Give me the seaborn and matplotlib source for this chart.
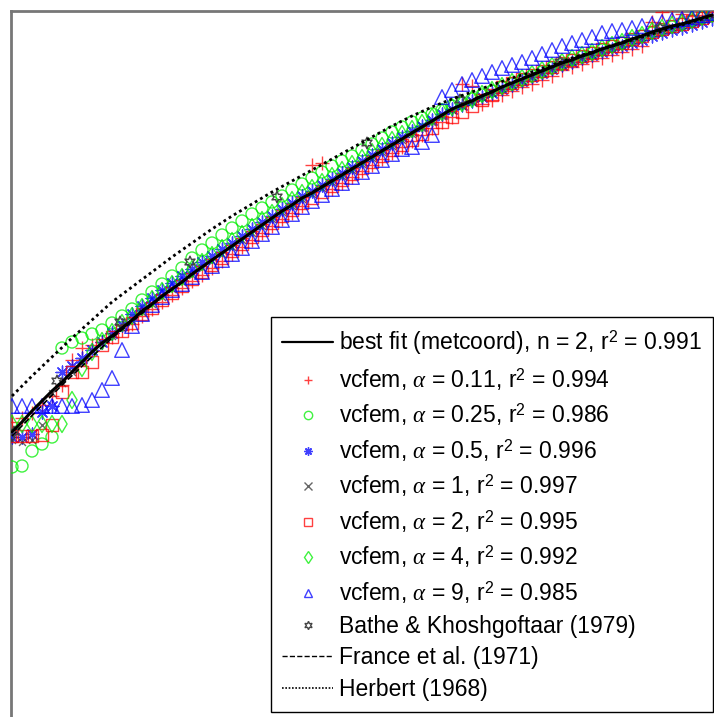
import numpy as np
import pandas as pd
import seaborn as sns
import matplotlib
matplotlib.use("Agg")
import matplotlib.pyplot as plt
from matplotlib.lines import Line2D

sns.set_theme(style="white")
plt.rcParams["font.family"] = ["Liberation Sans", "DejaVu Sans"]
plt.rcParams["mathtext.fontset"] = "custom"
plt.rcParams["mathtext.rm"] = "Liberation Sans"
plt.rcParams["mathtext.it"] = "Liberation Serif:italic"
plt.rcParams["text.color"] = "black"

# ---------------- data (screen-like units, y grows downward) -------------
x_grid = list(range(12, 713, 10))

best_fit = [432, 422, 411, 401, 391, 382, 372, 362, 352, 343, 336, 328, 320, 311, 304, 296, 289, 282,
            274, 267, 260, 253, 246, 239, 232, 225, 218, 211, 205, 198, 193, 187, 181, 175, 169, 163,
            157, 151, 145, 139, 133, 127, 121, 115, 109, 105, 101, 96, 92, 87, 83, 79, 75, 71, 67, 63,
            60, 56, 53, 49, 46, 43, 39, 36, 32, 29, 26, 24, 21, 18, 15]

france_x = [12, 62, 112, 162, 212, 262, 312, 362, 412, 462, 512, 562, 612, 662, 712]
france_y = [436, 385, 338, 297, 260, 225, 192, 162, 132, 104, 82, 62, 45, 29, 15]

herbert_x = [12, 32, 52, 72, 92, 112, 132, 152, 172, 192, 212, 232, 252, 272, 292, 312, 332, 352,
             372, 392, 412, 432, 452, 472, 492, 512, 532, 552, 572, 592, 612, 632, 652, 672, 692, 712]
herbert_y = [396, 376, 357, 338, 320, 302, 287, 272, 257, 243, 229, 216, 204, 192, 181, 170, 159, 148,
             137, 126, 116, 107, 99, 92, 85, 78, 72, 65, 58, 52, 46, 40, 34, 28, 22, 16]

a011 = [422, 418, 413, 405, 396, 385, 360, 348, 345, 342, 337, 330, 324, 316, 309, 302, 295, 288,
        281, 275, 268, 261, 254, 247, 240, 233, 226, 219, 213, 206, 165, 163, 189, 183, 177, 171,
        165, 159, 153, 147, 141, 135, 128, 122, 117, 84, 86, 104, 100, 95, 91, 87, 84, 80, 76, 70,
        67, 64, 61, 58, 55, 52, 49, 46, 22, 12, 10, 14, 16, 15, 12]
a025 = [467, 466, 451, 444, 437, 348, 342, 338, 334, 330, 323, 316, 309, 300, 292, 284, 276, 268,
        258, 250, 243, 235, 228, 221, 214, 208, 202, 196, 190, 184, 178, 172, 166, 161, 156, 150,
        144, 138, 132, 127, 122, 118, 114, 110, 106, 103, 99, 95, 91, 87, 84, 80, 76, 72, 68, 64,
        60, 57, 53, 50, 46, 43, 40, 36, 33, 30, 27, 24, 21, 18, 15]
a05 = [437, 437, 434, 412, 406, 372, 366, 358, 350, 342, 333, 325, 314, 306, 298, 290, 283, 276,
       269, 262, 256, 249, 243, 236, 229, 222, 216, 209, 203, 196, 191, 185, 179, 173, 167, 161,
       155, 149, 143, 137, 131, 126, 120, 114, 109, 105, 101, 97, 93, 89, 85, 81, 77, 73, 69, 65,
       62, 58, 55, 52, 49, 46, 43, 40, 36, 33, 30, 28, 25, 22, 19]
a1 = [440, 442, 440, 425, 393, 383, 372, 362, 351, 343, 336, 328, 320, 312, 304, 297, 289, 282,
      275, 268, 261, 254, 247, 240, 233, 226, 219, 212, 206, 199, 194, 188, 182, 176, 170, 164,
      158, 152, 146, 140, 134, 128, 122, 116, 110, 106, 102, 97, 93, 88, 84, 80, 76, 72, 68, 64,
      61, 57, 54, 50, 47, 44, 40, 37, 33, 30, 27, 25, 22, 19, 16]
a2 = [436, 436, 436, 435, 425, 392, 372, 372, 362, 345, 337, 331, 323, 314, 308, 300, 293, 286,
      279, 272, 265, 258, 251, 244, 237, 230, 223, 216, 210, 203, 198, 192, 186, 180, 174, 168,
      162, 156, 150, 145, 140, 134, 128, 122, 117, 112, 106, 100, 95, 87, 83, 79, 75, 71, 67, 63,
      60, 56, 53, 49, 46, 43, 39, 36, 32, 29, 26, 24, 21, 18, 15]
a4 = [424, 424, 424, 424, 424, 424, 400, 368, 352, 341, 332, 323, 316, 307, 299, 291, 284, 277,
      269, 262, 255, 248, 241, 234, 227, 220, 213, 206, 200, 193, 188, 182, 176, 170, 164, 158,
      152, 146, 140, 134, 129, 123, 117, 112, 107, 103, 99, 94, 90, 86, 82, 78, 74, 70, 66, 62,
      58, 55, 52, 48, 45, 42, 38, 35, 31, 28, 25, 23, 20, 17, 14]
a9 = [406, 406, 406, 406, 406, 406, 406, 405, 400, 390, 378, 350, 326, 314, 305, 297, 290, 284,
      277, 272, 266, 260, 254, 248, 241, 234, 227, 220, 214, 207, 201, 195, 189, 183, 177, 172,
      166, 160, 154, 149, 147, 142, 135, 97, 90, 84, 80, 76, 72, 68, 65, 62, 58, 54, 50, 46,
      43, 40, 37, 33, 31, 30, 28, 26, 24, 22, 20, 19, 17, 15, 13]

bathe_x = [14, 57, 120, 190, 277, 367, 460, 560, 660]
bathe_y = [432, 381, 322, 262, 197, 143, 100, 62, 28]

series_labels = ["0.11", "0.25", "0.5", "1", "2", "4", "9"]
series_r2 = ["0.994", "0.986", "0.996", "0.997", "0.995", "0.992", "0.985"]
series_values = [a011, a025, a05, a1, a2, a4, a9]
series_colors = ["#ff0000", "#00ee00", "#0000ff", "#333333", "#ff0000", "#00ee00", "#0000ff"]
series_markers = ["+", "o", (8, 2, 0), "x", "s", "d", "^"]
series_open = [False, True, False, False, True, True, True]
series_sizes = [100, 75, 85, 25, 85, 75, 110]

# ---------------- figure ----------------
W, H = 714, 717
fig = plt.figure(figsize=(W / 100, H / 100), dpi=100)
left, top, right, bottom = 11.5, 10.5, 760, 760
ax = fig.add_axes([left / W, (H - bottom) / H, (right - left) / W, (bottom - top) / H])
ax.set_xlim(left, right)
ax.set_ylim(bottom, top)

for vals, c, m, op, s in zip(series_values, series_colors, series_markers, series_open, series_sizes):
    if op:
        sns.scatterplot(x=x_grid, y=vals, marker=m, s=s, facecolor="none", edgecolor=c,
                        linewidth=1.0, alpha=0.75, ax=ax, legend=False, zorder=3)
    else:
        sns.scatterplot(x=x_grid, y=vals, marker=m, s=s, color=c,
                        linewidth=1.0, alpha=0.75, ax=ax, legend=False, zorder=3)

sns.scatterplot(x=bathe_x, y=bathe_y, marker=(6, 1, 0), s=70, facecolor="none", edgecolor="#444444",
                linewidth=1.0, ax=ax, legend=False, zorder=4)

sns.lineplot(x=herbert_x, y=herbert_y, color="black", linestyle=(0, (1, 1.2)), linewidth=2.0,
             ax=ax, sort=False, estimator=None, zorder=5)
sns.lineplot(x=france_x, y=france_y, color="black", linestyle="--", linewidth=1.2,
             ax=ax, sort=False, estimator=None, zorder=5)
sns.lineplot(x=x_grid, y=best_fit, color="black", linewidth=2.2,
             ax=ax, sort=False, estimator=None, zorder=6)

ax.set_xticks([])
ax.set_yticks([])
ax.set_xlabel("")
ax.set_ylabel("")
for side in ["left", "top"]:
    ax.spines[side].set_color("#777777")
    ax.spines[side].set_linewidth(2)
for side in ["right", "bottom"]:
    ax.spines[side].set_visible(False)

# ---------------- legend ----------------
handles = [Line2D([], [], color="black", lw=1.6)]
labels = ["best fit (metcoord), n = 2, r$^{2}$ = 0.991"]
for lab, r2, c, m, op in zip(series_labels, series_r2, series_colors, series_markers, series_open):
    handles.append(Line2D([], [], linestyle="none", marker=m, markersize=6,
                          markerfacecolor="none" if op else c, markeredgecolor=c,
                          markeredgewidth=1.0, alpha=0.75))
    labels.append("vcfem, $\\alpha$ = " + lab + ", r$^{2}$ = " + r2)
handles.append(Line2D([], [], linestyle="none", marker=(6, 1, 0), markersize=6,
                      markerfacecolor="none", markeredgecolor="#444444", markeredgewidth=1.0))
labels.append("Bathe & Khoshgoftaar (1979)")
handles.append(Line2D([], [], color="black", lw=1.0, linestyle="--"))
labels.append("France et al. (1971)")
handles.append(Line2D([], [], color="black", lw=1.2, linestyle=(0, (1, 1))))
labels.append("Herbert (1968)")

leg = fig.legend(handles, labels, loc="upper left", bbox_to_anchor=(271 / W, 1 - 317 / H),
                 bbox_transform=fig.transFigure, fontsize=16.5, frameon=True, fancybox=False,
                 edgecolor="black", framealpha=1, borderaxespad=0, handlelength=2.2,
                 handletextpad=0.26, borderpad=0.5, labelspacing=0.38)
leg.get_frame().set_linewidth(1.0)
for t in leg.get_texts():
    t.set_color("black")

fig.savefig("out.png", dpi=100)
